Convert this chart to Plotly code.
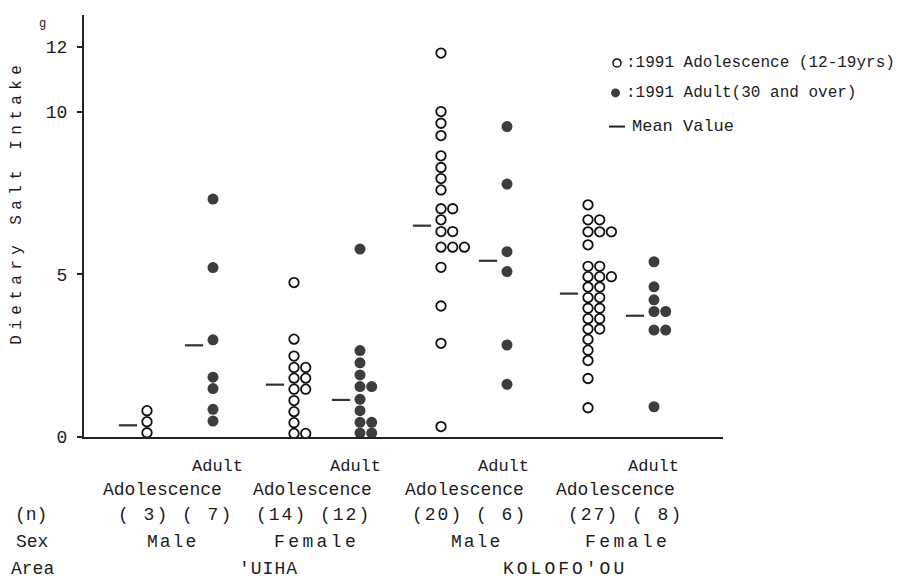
import plotly.graph_objects as go

# ---------------- data (g of dietary salt) ----------------
areas = ["'UIHA", "KOLOFO'OU"]
sexes = ["Male", "Female", "Male", "Female"]
age_groups = ["Adolescence", "Adult"]
n_counts = [3, 7, 14, 12, 20, 6, 27, 8]
y_ticks = [0, 5, 10, 12]

adol_male_uiha = [0.13, 0.47, 0.81]
adult_male_uiha = [7.32, 5.21, 2.99, 1.84, 1.49, 0.85, 0.49]
adol_female_uiha = [4.75, 3.01, 2.49, 2.14, 1.81, 1.47, 1.12, 0.78, 0.44, 0.11,
                    2.14, 1.81, 1.47, 0.11]
adult_female_uiha = [5.78, 2.66, 2.28, 1.91, 1.55, 1.16, 0.81, 0.45, 0.12,
                     1.55, 0.45, 0.12]
adol_male_kolofoou = [11.81, 10.01, 9.65, 9.27, 8.65, 8.29, 7.95, 7.60, 7.02, 6.68,
                      6.32, 5.84, 5.22, 4.03, 2.88, 0.32, 7.02, 6.32, 5.84, 5.84]
adult_male_kolofoou = [9.55, 7.78, 5.70, 5.09, 2.83, 1.62]
adol_female_kolofoou = [7.14, 6.68, 6.31, 5.91, 6.68, 6.31, 6.31,
                        5.25, 4.93, 4.61, 4.29, 3.96, 3.64, 3.32, 3.00, 2.67, 2.35,
                        5.25, 4.93, 4.61, 4.29, 3.96, 3.64, 3.32, 4.93, 1.80, 0.90]
adult_female_kolofoou = [5.39, 4.62, 4.22, 3.86, 3.29, 0.93, 3.86, 3.29]

adolescence_means = [0.36, 1.61, 6.50, 4.41]
adult_means = [2.82, 1.14, 5.42, 3.73]

adolescence_groups = [adol_male_uiha, adol_female_uiha, adol_male_kolofoou, adol_female_kolofoou]
adult_groups = [adult_male_uiha, adult_female_uiha, adult_male_kolofoou, adult_female_kolofoou]

# ---------------- layout constants ----------------
# the page body has an 8px default margin, so work in page pixels and shift
PAGE_OFF = 8
W, H = 902 - PAGE_OFF, 582 - PAGE_OFF
AX_LEFT, AX_RIGHT, AX_TOP, AX_BOTTOM = 84, 723, 15, 437.5   # page pixels
L = AX_LEFT - PAGE_OFF
T = AX_TOP - PAGE_OFF
R = W - (AX_RIGHT - PAGE_OFF)
B = H - (AX_BOTTOM - PAGE_OFF)
PW, PH = W - L - R, H - T - B
Y_MAX = (AX_BOTTOM - AX_TOP) / 32.55
FONT = "Liberation Mono, DejaVu Sans Mono, monospace"
INK = "#1c1c1c"
PAIR_START, PAIR_STEP, ADULT_OFF, COL_STEP, MEAN_OFF = 147, 147, 66, 11.7, -19


def px_x(p):
    return (p - AX_LEFT) / PW


def px_y(p):
    return (AX_BOTTOM - p) / PH


def spaced(s, sp):
    return f'<span style="letter-spacing:{sp}px">{s}</span>'


def stack(values, center):
    xs, seen = [], {}
    for v in values:
        c = seen.get(v, 0)
        seen[v] = c + 1
        xs.append(center + c * COL_STEP)
    return xs


fig = go.Figure()

ax, ay, mx, my = [], [], [], []
dx, dy = [], []
for k in range(4):
    base = PAIR_START + PAIR_STEP * k
    ax += stack(adolescence_groups[k], base)
    ay += adolescence_groups[k]
    dx += stack(adult_groups[k], base + ADULT_OFF)
    dy += adult_groups[k]
    mx += [base + MEAN_OFF, base + ADULT_OFF + MEAN_OFF]
    my += [adolescence_means[k], adult_means[k]]

fig.add_trace(go.Scatter(
    x=ax, y=ay, mode="markers", name=":1991 Adolescence (12-19yrs)",
    marker=dict(symbol="circle", size=9.5, color="white",
                line=dict(color="#111", width=1.8)),
    cliponaxis=False, showlegend=False))
fig.add_trace(go.Scatter(
    x=dx, y=dy, mode="markers", name=":1991 Adult(30 and over)",
    marker=dict(symbol="circle", size=11, color="#3d3d3d", line=dict(width=0)),
    cliponaxis=False, showlegend=False))
fig.add_trace(go.Scatter(
    x=mx, y=my, mode="markers", name="Mean Value",
    marker=dict(symbol="line-ew", size=13, line=dict(color="#333", width=2.2)),
    cliponaxis=False, showlegend=False))

annotations = []


def ann(text, px, py, size=18, xanchor="center", **kw):
    annotations.append(dict(text=text, x=px_x(px), y=px_y(py), xref="paper", yref="paper",
                            showarrow=False, xanchor=xanchor, yanchor="middle",
                            font=dict(family=FONT, size=size, color=INK), **kw))


# axis title and unit
ann(spaced("Dietary Salt Intake", 5.4), 17, 203, size=16, textangle=-90)
ann("g", 42, 24, size=12)

# category rows
adult_x = [217, 355, 503, 653]
adol_x = [162, 312, 464, 615]
n_x = [175, 313, 470, 625]
sex_x = [172, 316, 476, 627]
area_x = [268, 565]
for k in range(4):
    ann(age_groups[1], adult_x[k], 467, size=17)
    ann(age_groups[0], adol_x[k], 491, size=18)
    ann(spaced("(%2d) (%2d)" % (n_counts[2 * k], n_counts[2 * k + 1]), 2), n_x[k], 516)
    sp = 2 if sexes[k] == "Male" else 3.4
    ann(spaced(sexes[k], sp), sex_x[k], 543)
for j in range(2):
    ann(spaced(areas[j], 3 if j else 1), area_x[j], 570)
ann("(n)", 31, 516)
ann("Sex", 32, 543)
ann("Area", 32, 570)

# manual legend
ann(":1991 Adolescence (12-19yrs)", 624, 63, size=16, xanchor="left")
ann(":1991 Adult(30 and over)", 624, 93, size=16, xanchor="left")
ann("Mean Value", 630, 127, size=17, xanchor="left")
shapes = [
    dict(type="circle", xref="paper", yref="paper",
         x0=px_x(613), x1=px_x(621), y0=px_y(67), y1=px_y(59),
         line=dict(color="#111", width=1.5), fillcolor="white"),
    dict(type="circle", xref="paper", yref="paper",
         x0=px_x(611), x1=px_x(620), y0=px_y(97.5), y1=px_y(88.5),
         line=dict(width=0), fillcolor="#3d3d3d"),
    dict(type="line", xref="paper", yref="paper",
         x0=px_x(609), x1=px_x(625), y0=px_y(126.7), y1=px_y(126.7),
         line=dict(color="#222", width=2)),
]

fig.update_layout(
    width=W, height=H,
    margin=dict(l=L, r=R, t=T, b=B, autoexpand=False),
    paper_bgcolor="white", plot_bgcolor="white",
    showlegend=False,
    annotations=annotations, shapes=shapes,
    xaxis=dict(range=[AX_LEFT, AX_RIGHT], showline=True, linewidth=2, linecolor="#222",
               showticklabels=False, ticks="", showgrid=False, zeroline=False),
    yaxis=dict(range=[0, Y_MAX], showline=True, linewidth=2, linecolor="#222",
               tickvals=y_ticks, ticktext=[str(v) for v in y_ticks],
               ticks="outside", ticklen=5, tickwidth=1.5, tickcolor="#222",
               tickfont=dict(family=FONT, size=18, color=INK),
               ticklabelstandoff=6,
               showgrid=False, zeroline=False),
)

fig.write_html("out.html")
